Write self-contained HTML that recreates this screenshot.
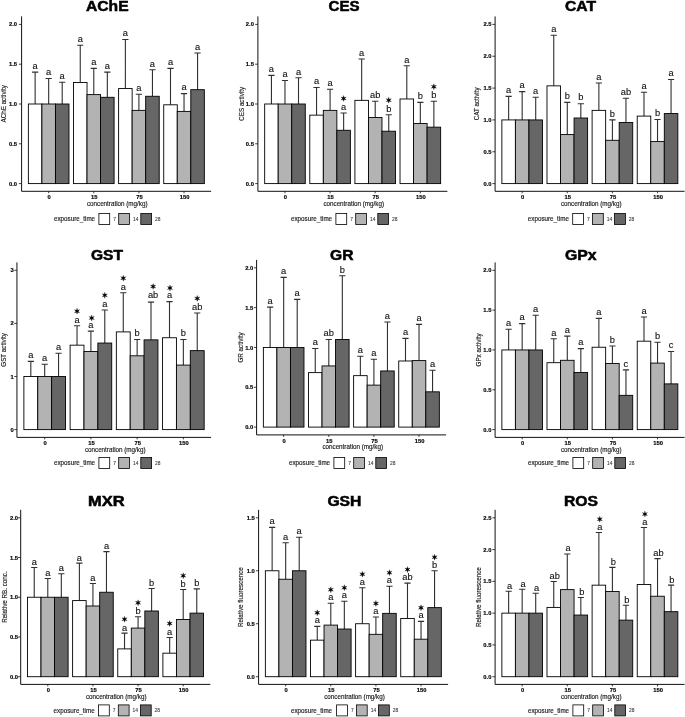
<!DOCTYPE html>
<html><head><meta charset="utf-8"><title>Biomarker bar charts</title>
<style>
html,body{margin:0;padding:0;background:#fff;}
body{width:685px;height:717px;overflow:hidden;font-family:"Liberation Sans",sans-serif;}
svg{display:block;will-change:transform;}
text{font-family:"Liberation Sans",sans-serif;}
.ttl{font-weight:bold;font-size:13.9px;fill:#000;stroke:#000;stroke-width:0.5px;}
.tk{font-weight:bold;font-size:5.8px;fill:#000;stroke:#000;stroke-width:0.15px;}
.at{font-size:6.28px;fill:#1a1a1a;stroke:#1a1a1a;stroke-width:0.15px;}
.lt{font-size:6.28px;fill:#1a1a1a;stroke:#1a1a1a;stroke-width:0.15px;}
.ll{font-size:4.9px;fill:#333;stroke:#333;stroke-width:0.08px;}
.lab{font-size:9.3px;fill:#111;stroke:#111;stroke-width:0.12px;text-anchor:middle;}
</style></head><body>
<svg width="685" height="717" viewBox="0 0 685 717">
<rect width="685" height="717" fill="#fff"/>
<g>
<text x="86" y="11.3" class="ttl" textLength="42.6" lengthAdjust="spacingAndGlyphs">AChE</text>
<path d="M35.14 104V72.16M32.04 72.16H38.24M48.67 104V78.53M45.57 78.53H51.77M62.21 104V82.19M59.11 82.19H65.31M80.25 82.51V45.26M77.15 45.26H83.35M93.79 94.61V68.42M90.69 68.42H96.89M107.33 97.31V72.16M104.23 72.16H110.43M125.37 88.56V39.52M122.27 39.52H128.47M138.91 110.37V94.29M135.81 94.29H142.01M152.45 96.28V69.77M149.35 69.77H155.55M170.49 104.8V68.42M167.39 68.42H173.59M184.03 111.4V93.65M180.93 93.65H187.13M197.56 89.67V53.06M194.46 53.06H200.66" stroke="#303030" stroke-width="1.1" fill="none"/>
<g stroke="#000" stroke-width="0.9"><rect x="28.37" y="104" width="13.54" height="79.6" fill="#ffffff"/><rect x="41.9" y="104" width="13.54" height="79.6" fill="#b3b3b3"/><rect x="55.44" y="104" width="13.54" height="79.6" fill="#666666"/><rect x="73.49" y="82.51" width="13.54" height="101.09" fill="#ffffff"/><rect x="87.02" y="94.61" width="13.54" height="88.99" fill="#b3b3b3"/><rect x="100.56" y="97.31" width="13.54" height="86.29" fill="#666666"/><rect x="118.61" y="88.56" width="13.54" height="95.04" fill="#ffffff"/><rect x="132.14" y="110.37" width="13.54" height="73.23" fill="#b3b3b3"/><rect x="145.68" y="96.28" width="13.54" height="87.32" fill="#666666"/><rect x="163.73" y="104.8" width="13.54" height="78.8" fill="#ffffff"/><rect x="177.26" y="111.4" width="13.54" height="72.2" fill="#b3b3b3"/><rect x="190.8" y="89.67" width="13.54" height="93.93" fill="#666666"/></g>
<text x="35.14" y="68.96" class="lab">a</text><text x="48.67" y="75.33" class="lab">a</text><text x="62.21" y="78.99" class="lab">a</text><text x="80.25" y="42.06" class="lab">a</text><text x="93.79" y="65.22" class="lab">a</text><text x="107.33" y="68.96" class="lab">a</text><text x="125.37" y="36.32" class="lab">a</text><text x="138.91" y="91.09" class="lab">a</text><text x="152.45" y="66.57" class="lab">a</text><text x="170.49" y="65.22" class="lab">a</text><text x="184.03" y="90.45" class="lab">a</text><text x="197.56" y="49.86" class="lab">a</text>
<text x="17" y="185.65" class="tk" text-anchor="end">0.0</text>
<text x="17" y="145.85" class="tk" text-anchor="end">0.5</text>
<text x="17" y="106.05" class="tk" text-anchor="end">1.0</text>
<text x="17" y="66.25" class="tk" text-anchor="end">1.5</text>
<text x="17" y="26.45" class="tk" text-anchor="end">2.0</text>
<text x="49.17" y="198.9" class="tk" text-anchor="middle">0</text>
<text x="94.29" y="198.9" class="tk" text-anchor="middle">15</text>
<text x="139.41" y="198.9" class="tk" text-anchor="middle">75</text>
<text x="184.53" y="198.9" class="tk" text-anchor="middle">150</text>
<path d="M21.6 16.4V191.3H211.1" stroke="#111" stroke-width="1.0" fill="none"/>
<path d="M18.9 183.6H21.6M18.9 143.8H21.6M18.9 104H21.6M18.9 64.2H21.6M18.9 24.4H21.6M48.67 191.3V193.3M93.79 191.3V193.3M138.91 191.3V193.3M184.03 191.3V193.3" stroke="#111" stroke-width="0.8" fill="none"/>
<text x="117.2" y="206.2" class="at" text-anchor="middle">concentration (mg/kg)</text>
<text transform="translate(5.9 103.85) rotate(-90)" class="at" text-anchor="middle">AChE activity</text>
<text x="54" y="221.3" class="lt">exposure_time</text>
<rect x="98.9" y="213.5" width="10.8" height="11" fill="#ffffff" stroke="#000" stroke-width="0.8"/>
<text x="113.2" y="220.9" class="ll">7</text>
<rect x="118.7" y="213.5" width="10.8" height="11" fill="#b3b3b3" stroke="#000" stroke-width="0.8"/>
<text x="133" y="220.9" class="ll">14</text>
<rect x="140.8" y="213.5" width="10.8" height="11" fill="#666666" stroke="#000" stroke-width="0.8"/>
<text x="155" y="220.9" class="ll">28</text>
</g>
<g>
<text x="328.6" y="11.3" class="ttl" textLength="31" lengthAdjust="spacingAndGlyphs">CES</text>
<path d="M271.44 104V75.34M268.34 75.34H274.54M284.97 104V80.52M281.87 80.52H288.07M298.51 104V77.73M295.41 77.73H301.61M316.55 115.14V87.52M313.45 87.52H319.65M330.09 110.37V89.19M326.99 89.19H333.19M343.63 130.27V113.07M340.53 113.07H346.73M361.67 100.34V59.03M358.57 59.03H364.77M375.21 117.53V101.29M372.11 101.29H378.31M388.75 131.22V114.75M385.65 114.75H391.85M406.79 98.99V65.79M403.69 65.79H409.89M420.33 123.5V102.41M417.23 102.41H423.43M433.86 127.16V101.29M430.76 101.29H436.96" stroke="#303030" stroke-width="1.1" fill="none"/>
<g stroke="#000" stroke-width="0.9"><rect x="264.67" y="104" width="13.54" height="79.6" fill="#ffffff"/><rect x="278.2" y="104" width="13.54" height="79.6" fill="#b3b3b3"/><rect x="291.74" y="104" width="13.54" height="79.6" fill="#666666"/><rect x="309.79" y="115.14" width="13.54" height="68.46" fill="#ffffff"/><rect x="323.32" y="110.37" width="13.54" height="73.23" fill="#b3b3b3"/><rect x="336.86" y="130.27" width="13.54" height="53.33" fill="#666666"/><rect x="354.91" y="100.34" width="13.54" height="83.26" fill="#ffffff"/><rect x="368.44" y="117.53" width="13.54" height="66.07" fill="#b3b3b3"/><rect x="381.98" y="131.22" width="13.54" height="52.38" fill="#666666"/><rect x="400.02" y="98.99" width="13.54" height="84.61" fill="#ffffff"/><rect x="413.56" y="123.5" width="13.54" height="60.1" fill="#b3b3b3"/><rect x="427.1" y="127.16" width="13.54" height="56.44" fill="#666666"/></g>
<text x="271.44" y="72.14" class="lab">a</text><text x="284.97" y="77.32" class="lab">a</text><text x="298.51" y="74.53" class="lab">a</text><text x="316.55" y="84.32" class="lab">a</text><text x="330.09" y="85.99" class="lab">a</text><polygon points="343.63,95.47 343.05,97.48 341.03,96.97 342.48,98.47 341.03,99.97 343.05,99.47 343.63,101.47 344.2,99.47 346.22,99.97 344.78,98.47 346.22,96.97 344.2,97.48" fill="#000" stroke="#000" stroke-width="0.25" stroke-linejoin="round"/><text x="343.63" y="109.87" class="lab">a</text><text x="361.67" y="55.83" class="lab">a</text><text x="375.21" y="98.09" class="lab">ab</text><polygon points="388.75,97.15 388.17,99.15 386.15,98.65 387.6,100.15 386.15,101.65 388.17,101.14 388.75,103.15 389.32,101.14 391.34,101.65 389.9,100.15 391.34,98.65 389.32,99.15" fill="#000" stroke="#000" stroke-width="0.25" stroke-linejoin="round"/><text x="388.75" y="111.55" class="lab">b</text><text x="406.79" y="62.59" class="lab">a</text><text x="420.33" y="99.21" class="lab">b</text><polygon points="433.86,83.69 433.29,85.7 431.27,85.19 432.71,86.69 431.27,88.19 433.29,87.69 433.86,89.69 434.44,87.69 436.46,88.19 435.01,86.69 436.46,85.19 434.44,85.7" fill="#000" stroke="#000" stroke-width="0.25" stroke-linejoin="round"/><text x="433.86" y="98.09" class="lab">b</text>
<text x="253.9" y="185.65" class="tk" text-anchor="end">0.0</text>
<text x="253.9" y="145.85" class="tk" text-anchor="end">0.5</text>
<text x="253.9" y="106.05" class="tk" text-anchor="end">1.0</text>
<text x="253.9" y="66.25" class="tk" text-anchor="end">1.5</text>
<text x="253.9" y="26.45" class="tk" text-anchor="end">2.0</text>
<text x="285.47" y="198.9" class="tk" text-anchor="middle">0</text>
<text x="330.59" y="198.9" class="tk" text-anchor="middle">15</text>
<text x="375.71" y="198.9" class="tk" text-anchor="middle">75</text>
<text x="420.83" y="198.9" class="tk" text-anchor="middle">150</text>
<path d="M257.9 16.4V191.3H447.4" stroke="#111" stroke-width="1.0" fill="none"/>
<path d="M255.2 183.6H257.9M255.2 143.8H257.9M255.2 104H257.9M255.2 64.2H257.9M255.2 24.4H257.9M284.97 191.3V193.3M330.09 191.3V193.3M375.21 191.3V193.3M420.33 191.3V193.3" stroke="#111" stroke-width="0.8" fill="none"/>
<text x="353.7" y="206.2" class="at" text-anchor="middle">concentration (mg/kg)</text>
<text transform="translate(244.1 103.85) rotate(-90)" class="at" text-anchor="middle">CES activity</text>
<text x="291" y="221.3" class="lt">exposure_time</text>
<rect x="335.9" y="213.5" width="10.8" height="11" fill="#ffffff" stroke="#000" stroke-width="0.8"/>
<text x="350.2" y="220.9" class="ll">7</text>
<rect x="355.7" y="213.5" width="10.8" height="11" fill="#b3b3b3" stroke="#000" stroke-width="0.8"/>
<text x="370" y="220.9" class="ll">14</text>
<rect x="377.8" y="213.5" width="10.8" height="11" fill="#666666" stroke="#000" stroke-width="0.8"/>
<text x="392" y="220.9" class="ll">28</text>
</g>
<g>
<text x="565" y="11.3" class="ttl" textLength="31" lengthAdjust="spacingAndGlyphs">CAT</text>
<path d="M508.64 119.92V96.36M505.54 96.36H511.74M522.17 119.92V91.58M519.07 91.58H525.27M535.71 119.92V97.31M532.61 97.31H538.81M553.75 85.85V35.23M550.65 35.23H556.85M567.29 134.57V102.34M564.19 102.34H570.39M580.83 118.01V103.68M577.73 103.68H583.93M598.87 110.37V82.99M595.77 82.99H601.97M612.41 140.3V119.92M609.31 119.92H615.51M625.95 122.47V98.27M622.85 98.27H629.05M643.99 116.1V92.22M640.89 92.22H647.09M657.53 141.57V119.47M654.43 119.47H660.63M671.06 113.55V79.48M667.96 79.48H674.16" stroke="#303030" stroke-width="1.1" fill="none"/>
<g stroke="#000" stroke-width="0.9"><rect x="501.87" y="119.92" width="13.54" height="63.68" fill="#ffffff"/><rect x="515.4" y="119.92" width="13.54" height="63.68" fill="#b3b3b3"/><rect x="528.94" y="119.92" width="13.54" height="63.68" fill="#666666"/><rect x="546.99" y="85.85" width="13.54" height="97.75" fill="#ffffff"/><rect x="560.52" y="134.57" width="13.54" height="49.03" fill="#b3b3b3"/><rect x="574.06" y="118.01" width="13.54" height="65.59" fill="#666666"/><rect x="592.11" y="110.37" width="13.54" height="73.23" fill="#ffffff"/><rect x="605.64" y="140.3" width="13.54" height="43.3" fill="#b3b3b3"/><rect x="619.18" y="122.47" width="13.54" height="61.13" fill="#666666"/><rect x="637.23" y="116.1" width="13.54" height="67.5" fill="#ffffff"/><rect x="650.76" y="141.57" width="13.54" height="42.03" fill="#b3b3b3"/><rect x="664.3" y="113.55" width="13.54" height="70.05" fill="#666666"/></g>
<text x="508.64" y="93.16" class="lab">a</text><text x="522.17" y="88.38" class="lab">a</text><text x="535.71" y="94.11" class="lab">a</text><text x="553.75" y="32.03" class="lab">a</text><text x="567.29" y="99.14" class="lab">b</text><text x="580.83" y="100.48" class="lab">b</text><text x="598.87" y="79.79" class="lab">a</text><text x="612.41" y="116.72" class="lab">b</text><text x="625.95" y="95.07" class="lab">ab</text><text x="643.99" y="89.02" class="lab">a</text><text x="657.53" y="116.27" class="lab">b</text><text x="671.06" y="76.28" class="lab">a</text>
<text x="491.6" y="185.65" class="tk" text-anchor="end">0.0</text>
<text x="491.6" y="153.81" class="tk" text-anchor="end">0.5</text>
<text x="491.6" y="121.97" class="tk" text-anchor="end">1.0</text>
<text x="491.6" y="90.13" class="tk" text-anchor="end">1.5</text>
<text x="491.6" y="58.29" class="tk" text-anchor="end">2.0</text>
<text x="491.6" y="26.45" class="tk" text-anchor="end">2.5</text>
<text x="522.67" y="198.9" class="tk" text-anchor="middle">0</text>
<text x="567.79" y="198.9" class="tk" text-anchor="middle">15</text>
<text x="612.91" y="198.9" class="tk" text-anchor="middle">75</text>
<text x="658.03" y="198.9" class="tk" text-anchor="middle">150</text>
<path d="M495.1 16.4V191.3H684.6" stroke="#111" stroke-width="1.0" fill="none"/>
<path d="M492.4 183.6H495.1M492.4 151.76H495.1M492.4 119.92H495.1M492.4 88.08H495.1M492.4 56.24H495.1M492.4 24.4H495.1M522.17 191.3V193.3M567.29 191.3V193.3M612.41 191.3V193.3M657.53 191.3V193.3" stroke="#111" stroke-width="0.8" fill="none"/>
<text x="591.2" y="206.2" class="at" text-anchor="middle">concentration (mg/kg)</text>
<text transform="translate(479.2 103.85) rotate(-90)" class="at" text-anchor="middle">CAT activity</text>
<text x="527.8" y="221.3" class="lt">exposure_time</text>
<rect x="572.7" y="213.5" width="10.8" height="11" fill="#ffffff" stroke="#000" stroke-width="0.8"/>
<text x="587" y="220.9" class="ll">7</text>
<rect x="592.5" y="213.5" width="10.8" height="11" fill="#b3b3b3" stroke="#000" stroke-width="0.8"/>
<text x="606.8" y="220.9" class="ll">14</text>
<rect x="614.6" y="213.5" width="10.8" height="11" fill="#666666" stroke="#000" stroke-width="0.8"/>
<text x="628.8" y="220.9" class="ll">28</text>
</g>
<g>
<text x="91" y="260.1" class="ttl" textLength="32" lengthAdjust="spacingAndGlyphs">GST</text>
<path d="M30.82 376.5V361.42M27.72 361.42H33.92M44.69 376.5V364.29M41.59 364.29H47.79M58.55 376.5V353.3M55.45 353.3H61.65M77.04 345.17V325.74M73.94 325.74H80.14M90.91 351.54V331.15M87.81 331.15H94.01M104.78 343.05V309.97M101.68 309.97H107.88M123.27 331.9V292.81M120.17 292.81H126.37M137.14 355.79V339.54M134.04 339.54H140.24M151.01 339.86V302.16M147.91 302.16H154.11M169.5 337.74V301.63M166.4 301.63H172.6M183.36 365.08V339.54M180.26 339.54H186.46M197.23 350.64V312.99M194.13 312.99H200.33" stroke="#303030" stroke-width="1.1" fill="none"/>
<g stroke="#000" stroke-width="0.9"><rect x="23.88" y="376.5" width="13.87" height="53.1" fill="#ffffff"/><rect x="37.75" y="376.5" width="13.87" height="53.1" fill="#b3b3b3"/><rect x="51.62" y="376.5" width="13.87" height="53.1" fill="#666666"/><rect x="70.11" y="345.17" width="13.87" height="84.43" fill="#ffffff"/><rect x="83.98" y="351.54" width="13.87" height="78.06" fill="#b3b3b3"/><rect x="97.85" y="343.05" width="13.87" height="86.55" fill="#666666"/><rect x="116.34" y="331.9" width="13.87" height="97.7" fill="#ffffff"/><rect x="130.2" y="355.79" width="13.87" height="73.81" fill="#b3b3b3"/><rect x="144.07" y="339.86" width="13.87" height="89.74" fill="#666666"/><rect x="162.56" y="337.74" width="13.87" height="91.86" fill="#ffffff"/><rect x="176.43" y="365.08" width="13.87" height="64.52" fill="#b3b3b3"/><rect x="190.3" y="350.64" width="13.87" height="78.96" fill="#666666"/></g>
<text x="30.82" y="358.22" class="lab">a</text><text x="44.69" y="361.09" class="lab">a</text><text x="58.55" y="350.1" class="lab">a</text><polygon points="77.04,308.14 76.47,310.14 74.45,309.64 75.89,311.14 74.45,312.64 76.47,312.13 77.04,314.14 77.62,312.13 79.64,312.64 78.19,311.14 79.64,309.64 77.62,310.14" fill="#000" stroke="#000" stroke-width="0.25" stroke-linejoin="round"/><text x="77.04" y="322.54" class="lab">a</text><polygon points="91.71,315.05 91.14,317.06 89.11,316.55 90.56,318.05 89.11,319.55 91.14,319.05 91.71,321.05 92.29,319.05 94.31,319.55 92.86,318.05 94.31,316.55 92.29,317.06" fill="#000" stroke="#000" stroke-width="0.25" stroke-linejoin="round"/><text x="90.91" y="327.95" class="lab">a</text><polygon points="104.78,292.37 104.2,294.37 102.18,293.87 103.63,295.37 102.18,296.87 104.2,296.36 104.78,298.37 105.35,296.36 107.38,296.87 105.93,295.37 107.38,293.87 105.35,294.37" fill="#000" stroke="#000" stroke-width="0.25" stroke-linejoin="round"/><text x="104.78" y="306.77" class="lab">a</text><polygon points="123.27,275.21 122.7,277.22 120.67,276.71 122.12,278.21 120.67,279.71 122.7,279.21 123.27,281.21 123.85,279.21 125.87,279.71 124.42,278.21 125.87,276.71 123.85,277.22" fill="#000" stroke="#000" stroke-width="0.25" stroke-linejoin="round"/><text x="123.27" y="289.61" class="lab">a</text><text x="137.14" y="336.34" class="lab">b</text><polygon points="153.11,283.56 152.53,285.56 150.51,285.06 151.96,286.56 150.51,288.06 152.53,287.56 153.11,289.56 153.68,287.56 155.7,288.06 154.26,286.56 155.7,285.06 153.68,285.56" fill="#000" stroke="#000" stroke-width="0.25" stroke-linejoin="round"/><text x="153.11" y="297.96" class="lab">ab</text><polygon points="170,285.03 169.42,287.03 167.4,286.53 168.85,288.03 167.4,289.53 169.42,289.02 170,291.03 170.57,289.02 172.59,289.53 171.15,288.03 172.59,286.53 170.57,287.03" fill="#000" stroke="#000" stroke-width="0.25" stroke-linejoin="round"/><text x="169.5" y="298.43" class="lab">a</text><text x="183.36" y="336.34" class="lab">b</text><polygon points="197.23,295.39 196.66,297.4 194.63,296.89 196.08,298.39 194.63,299.89 196.66,299.39 197.23,301.39 197.81,299.39 199.83,299.89 198.38,298.39 199.83,296.89 197.81,297.4" fill="#000" stroke="#000" stroke-width="0.25" stroke-linejoin="round"/><text x="197.23" y="309.79" class="lab">ab</text>
<text x="13.8" y="431.65" class="tk" text-anchor="end">0</text>
<text x="13.8" y="378.55" class="tk" text-anchor="end">1</text>
<text x="13.8" y="325.45" class="tk" text-anchor="end">2</text>
<text x="13.8" y="272.35" class="tk" text-anchor="end">3</text>
<text x="45.19" y="445.1" class="tk" text-anchor="middle">0</text>
<text x="91.41" y="445.1" class="tk" text-anchor="middle">15</text>
<text x="137.64" y="445.1" class="tk" text-anchor="middle">75</text>
<text x="183.86" y="445.1" class="tk" text-anchor="middle">150</text>
<path d="M16.95 262.4V437.4H211.1" stroke="#111" stroke-width="1.0" fill="none"/>
<path d="M14.25 429.6H16.95M14.25 376.5H16.95M14.25 323.4H16.95M14.25 270.3H16.95M44.69 437.4V439.4M90.91 437.4V439.4M137.14 437.4V439.4M183.36 437.4V439.4" stroke="#111" stroke-width="0.8" fill="none"/>
<text x="115.2" y="452" class="at" text-anchor="middle">concentration (mg/kg)</text>
<text transform="translate(5.9 349.9) rotate(-90)" class="at" text-anchor="middle">GST activity</text>
<text x="54" y="465.3" class="lt">exposure_time</text>
<rect x="98.9" y="457.5" width="10.8" height="11" fill="#ffffff" stroke="#000" stroke-width="0.8"/>
<text x="113.2" y="464.9" class="ll">7</text>
<rect x="118.7" y="457.5" width="10.8" height="11" fill="#b3b3b3" stroke="#000" stroke-width="0.8"/>
<text x="133" y="464.9" class="ll">14</text>
<rect x="140.8" y="457.5" width="10.8" height="11" fill="#666666" stroke="#000" stroke-width="0.8"/>
<text x="155" y="464.9" class="ll">28</text>
</g>
<g>
<text x="330" y="260.3" class="ttl" textLength="23.4" lengthAdjust="spacingAndGlyphs">GR</text>
<path d="M270.14 347.45V307.15M267.04 307.15H273.24M283.67 347.45V277.36M280.57 277.36H286.77M297.21 347.45V299.42M294.11 299.42H300.31M315.25 372.62V348.49M312.15 348.49H318.35M328.79 365.93V339.49M325.69 339.49H331.89M342.33 339.49V275.76M339.23 275.76H345.43M360.37 375.65V356.21M357.27 356.21H363.47M373.91 385.12V359.24M370.81 359.24H377.01M387.45 370.95V321.96M384.35 321.96H390.55M405.49 360.99V338.37M402.39 338.37H408.59M419.03 360.59V324.35M415.93 324.35H422.13M432.56 391.82V370.31M429.46 370.31H435.66" stroke="#303030" stroke-width="1.1" fill="none"/>
<g stroke="#000" stroke-width="0.9"><rect x="263.37" y="347.45" width="13.54" height="79.65" fill="#ffffff"/><rect x="276.9" y="347.45" width="13.54" height="79.65" fill="#b3b3b3"/><rect x="290.44" y="347.45" width="13.54" height="79.65" fill="#666666"/><rect x="308.49" y="372.62" width="13.54" height="54.48" fill="#ffffff"/><rect x="322.02" y="365.93" width="13.54" height="61.17" fill="#b3b3b3"/><rect x="335.56" y="339.49" width="13.54" height="87.62" fill="#666666"/><rect x="353.61" y="375.65" width="13.54" height="51.45" fill="#ffffff"/><rect x="367.14" y="385.12" width="13.54" height="41.98" fill="#b3b3b3"/><rect x="380.68" y="370.95" width="13.54" height="56.15" fill="#666666"/><rect x="398.73" y="360.99" width="13.54" height="66.11" fill="#ffffff"/><rect x="412.26" y="360.59" width="13.54" height="66.51" fill="#b3b3b3"/><rect x="425.8" y="391.82" width="13.54" height="35.28" fill="#666666"/></g>
<text x="270.14" y="303.95" class="lab">a</text><text x="283.67" y="274.16" class="lab">a</text><text x="297.21" y="296.22" class="lab">a</text><text x="315.25" y="345.29" class="lab">a</text><text x="328.79" y="336.29" class="lab">ab</text><text x="342.33" y="272.56" class="lab">b</text><text x="360.37" y="353.01" class="lab">a</text><text x="373.91" y="356.04" class="lab">a</text><text x="387.45" y="318.76" class="lab">a</text><text x="405.49" y="335.17" class="lab">a</text><text x="419.03" y="321.15" class="lab">a</text><text x="432.56" y="367.11" class="lab">a</text>
<text x="253.2" y="429.15" class="tk" text-anchor="end">0.0</text>
<text x="253.2" y="389.33" class="tk" text-anchor="end">0.5</text>
<text x="253.2" y="349.5" class="tk" text-anchor="end">1.0</text>
<text x="253.2" y="309.68" class="tk" text-anchor="end">1.5</text>
<text x="253.2" y="269.85" class="tk" text-anchor="end">2.0</text>
<text x="284.17" y="442.7" class="tk" text-anchor="middle">0</text>
<text x="329.29" y="442.7" class="tk" text-anchor="middle">15</text>
<text x="374.41" y="442.7" class="tk" text-anchor="middle">75</text>
<text x="419.53" y="442.7" class="tk" text-anchor="middle">150</text>
<path d="M256.6 259.9V434.9H446.1" stroke="#111" stroke-width="1.0" fill="none"/>
<path d="M253.9 427.1H256.6M253.9 387.28H256.6M253.9 347.45H256.6M253.9 307.62H256.6M253.9 267.8H256.6M283.67 434.9V436.9M328.79 434.9V436.9M373.91 434.9V436.9M419.03 434.9V436.9" stroke="#111" stroke-width="0.8" fill="none"/>
<text x="352.7" y="449.4" class="at" text-anchor="middle">concentration (mg/kg)</text>
<text transform="translate(242.9 347.4) rotate(-90)" class="at" text-anchor="middle">GR activity</text>
<text x="289" y="465.3" class="lt">exposure_time</text>
<rect x="333.9" y="457.5" width="10.8" height="11" fill="#ffffff" stroke="#000" stroke-width="0.8"/>
<text x="348.2" y="464.9" class="ll">7</text>
<rect x="353.7" y="457.5" width="10.8" height="11" fill="#b3b3b3" stroke="#000" stroke-width="0.8"/>
<text x="368" y="464.9" class="ll">14</text>
<rect x="375.8" y="457.5" width="10.8" height="11" fill="#666666" stroke="#000" stroke-width="0.8"/>
<text x="390" y="464.9" class="ll">28</text>
</g>
<g>
<text x="565" y="260.1" class="ttl" textLength="31.6" lengthAdjust="spacingAndGlyphs">GPx</text>
<path d="M508.64 349.95V329.24M505.54 329.24H511.74M522.17 349.95V323.67M519.07 323.67H525.27M535.71 349.95V315.3M532.61 315.3H538.81M553.75 362.69V338.8M550.65 338.8H556.85M567.29 360.3V336.17M564.19 336.17H570.39M580.83 372.49V348.6M577.73 348.6H583.93M598.87 347.24V318.33M595.77 318.33H601.97M612.41 363.49V345.97M609.31 345.97H615.51M625.95 395.35V369.86M622.85 369.86H629.05M643.99 341.19V316.97M640.89 316.97H647.09M657.53 363.09V342.22M654.43 342.22H660.63M671.06 383.88V351.54M667.96 351.54H674.16" stroke="#303030" stroke-width="1.1" fill="none"/>
<g stroke="#000" stroke-width="0.9"><rect x="501.87" y="349.95" width="13.54" height="79.65" fill="#ffffff"/><rect x="515.4" y="349.95" width="13.54" height="79.65" fill="#b3b3b3"/><rect x="528.94" y="349.95" width="13.54" height="79.65" fill="#666666"/><rect x="546.99" y="362.69" width="13.54" height="66.91" fill="#ffffff"/><rect x="560.52" y="360.3" width="13.54" height="69.3" fill="#b3b3b3"/><rect x="574.06" y="372.49" width="13.54" height="57.11" fill="#666666"/><rect x="592.11" y="347.24" width="13.54" height="82.36" fill="#ffffff"/><rect x="605.64" y="363.49" width="13.54" height="66.11" fill="#b3b3b3"/><rect x="619.18" y="395.35" width="13.54" height="34.25" fill="#666666"/><rect x="637.23" y="341.19" width="13.54" height="88.41" fill="#ffffff"/><rect x="650.76" y="363.09" width="13.54" height="66.51" fill="#b3b3b3"/><rect x="664.3" y="383.88" width="13.54" height="45.72" fill="#666666"/></g>
<text x="508.64" y="326.04" class="lab">a</text><text x="522.17" y="320.47" class="lab">a</text><text x="535.71" y="312.1" class="lab">a</text><text x="553.75" y="335.6" class="lab">a</text><text x="567.29" y="332.97" class="lab">a</text><text x="580.83" y="345.4" class="lab">a</text><text x="598.87" y="315.13" class="lab">a</text><text x="612.41" y="342.77" class="lab">b</text><text x="625.95" y="366.66" class="lab">c</text><text x="643.99" y="313.77" class="lab">a</text><text x="657.53" y="339.02" class="lab">b</text><text x="671.06" y="348.34" class="lab">c</text>
<text x="491.4" y="431.65" class="tk" text-anchor="end">0.0</text>
<text x="491.4" y="391.83" class="tk" text-anchor="end">0.5</text>
<text x="491.4" y="352" class="tk" text-anchor="end">1.0</text>
<text x="491.4" y="312.18" class="tk" text-anchor="end">1.5</text>
<text x="491.4" y="272.35" class="tk" text-anchor="end">2.0</text>
<text x="522.67" y="445.1" class="tk" text-anchor="middle">0</text>
<text x="567.79" y="445.1" class="tk" text-anchor="middle">15</text>
<text x="612.91" y="445.1" class="tk" text-anchor="middle">75</text>
<text x="658.03" y="445.1" class="tk" text-anchor="middle">150</text>
<path d="M495.1 262.4V437.4H684.6" stroke="#111" stroke-width="1.0" fill="none"/>
<path d="M492.4 429.6H495.1M492.4 389.78H495.1M492.4 349.95H495.1M492.4 310.12H495.1M492.4 270.3H495.1M522.17 437.4V439.4M567.29 437.4V439.4M612.41 437.4V439.4M657.53 437.4V439.4" stroke="#111" stroke-width="0.8" fill="none"/>
<text x="591.2" y="452" class="at" text-anchor="middle">concentration (mg/kg)</text>
<text transform="translate(481.3 349.9) rotate(-90)" class="at" text-anchor="middle">GPx activity</text>
<text x="528" y="465.3" class="lt">exposure_time</text>
<rect x="572.9" y="457.5" width="10.8" height="11" fill="#ffffff" stroke="#000" stroke-width="0.8"/>
<text x="587.2" y="464.9" class="ll">7</text>
<rect x="592.7" y="457.5" width="10.8" height="11" fill="#b3b3b3" stroke="#000" stroke-width="0.8"/>
<text x="607" y="464.9" class="ll">14</text>
<rect x="614.8" y="457.5" width="10.8" height="11" fill="#666666" stroke="#000" stroke-width="0.8"/>
<text x="629" y="464.9" class="ll">28</text>
</g>
<g>
<text x="88" y="505.7" class="ttl" textLength="36.6" lengthAdjust="spacingAndGlyphs">MXR</text>
<path d="M34.24 597.25V567.46M31.14 567.46H37.34M47.79 597.25V578.5M44.69 578.5H50.89M61.33 597.25V573.81M58.23 573.81H64.43M79.39 600.59V563.09M76.29 563.09H82.49M92.93 605.99V583.51M89.83 583.51H96.03M106.47 592.24V551.65M103.37 551.65H109.57M124.53 648.89V633.16M121.43 633.16H127.63M138.07 628.08V616.72M134.97 616.72H141.17M151.61 610.99V588.51M148.51 588.51H154.71M169.67 653.18V637.45M166.57 637.45H172.77M183.21 619.5V589.54M180.11 589.54H186.31M196.76 613.14V588.91M193.66 588.91H199.86" stroke="#303030" stroke-width="1.1" fill="none"/>
<g stroke="#000" stroke-width="0.9"><rect x="27.47" y="597.25" width="13.54" height="79.45" fill="#ffffff"/><rect x="41.01" y="597.25" width="13.54" height="79.45" fill="#b3b3b3"/><rect x="54.56" y="597.25" width="13.54" height="79.45" fill="#666666"/><rect x="72.61" y="600.59" width="13.54" height="76.11" fill="#ffffff"/><rect x="86.16" y="605.99" width="13.54" height="70.71" fill="#b3b3b3"/><rect x="99.7" y="592.24" width="13.54" height="84.46" fill="#666666"/><rect x="117.76" y="648.89" width="13.54" height="27.81" fill="#ffffff"/><rect x="131.3" y="628.08" width="13.54" height="48.62" fill="#b3b3b3"/><rect x="144.84" y="610.99" width="13.54" height="65.71" fill="#666666"/><rect x="162.9" y="653.18" width="13.54" height="23.52" fill="#ffffff"/><rect x="176.44" y="619.5" width="13.54" height="57.2" fill="#b3b3b3"/><rect x="189.99" y="613.14" width="13.54" height="63.56" fill="#666666"/></g>
<text x="34.24" y="564.96" class="lab">a</text><text x="47.79" y="576" class="lab">a</text><text x="61.33" y="571.31" class="lab">a</text><text x="79.39" y="560.59" class="lab">a</text><text x="92.93" y="581.01" class="lab">a</text><text x="106.47" y="549.15" class="lab">a</text><polygon points="124.53,616.26 123.95,618.27 121.93,617.76 123.38,619.26 121.93,620.76 123.95,620.26 124.53,622.26 125.1,620.26 127.13,620.76 125.68,619.26 127.13,617.76 125.1,618.27" fill="#000" stroke="#000" stroke-width="0.25" stroke-linejoin="round"/><text x="124.53" y="630.66" class="lab">a</text><polygon points="138.07,599.82 137.5,601.82 135.47,601.32 136.92,602.82 135.47,604.32 137.5,603.81 138.07,605.82 138.65,603.81 140.67,604.32 139.22,602.82 140.67,601.32 138.65,601.82" fill="#000" stroke="#000" stroke-width="0.25" stroke-linejoin="round"/><text x="138.07" y="614.22" class="lab">b</text><text x="151.61" y="586.01" class="lab">b</text><polygon points="169.67,620.55 169.1,622.56 167.07,622.05 168.52,623.55 167.07,625.05 169.1,624.55 169.67,626.55 170.25,624.55 172.27,625.05 170.82,623.55 172.27,622.05 170.25,622.56" fill="#000" stroke="#000" stroke-width="0.25" stroke-linejoin="round"/><text x="169.67" y="634.95" class="lab">a</text><polygon points="183.21,572.64 182.64,574.65 180.62,574.14 182.06,575.64 180.62,577.14 182.64,576.64 183.21,578.64 183.79,576.64 185.81,577.14 184.36,575.64 185.81,574.14 183.79,574.65" fill="#000" stroke="#000" stroke-width="0.25" stroke-linejoin="round"/><text x="183.21" y="587.04" class="lab">b</text><text x="196.76" y="586.41" class="lab">b</text>
<text x="18" y="678.75" class="tk" text-anchor="end">0.0</text>
<text x="18" y="639.02" class="tk" text-anchor="end">0.5</text>
<text x="18" y="599.3" class="tk" text-anchor="end">1.0</text>
<text x="18" y="559.57" class="tk" text-anchor="end">1.5</text>
<text x="18" y="519.85" class="tk" text-anchor="end">2.0</text>
<text x="48.29" y="692.2" class="tk" text-anchor="middle">0</text>
<text x="93.43" y="692.2" class="tk" text-anchor="middle">15</text>
<text x="138.57" y="692.2" class="tk" text-anchor="middle">75</text>
<text x="183.71" y="692.2" class="tk" text-anchor="middle">150</text>
<path d="M20.7 509.8V684.4H210.3" stroke="#111" stroke-width="1.0" fill="none"/>
<path d="M18 676.7H20.7M18 636.98H20.7M18 597.25H20.7M18 557.52H20.7M18 517.8H20.7M47.79 684.4V686.4M92.93 684.4V686.4M138.07 684.4V686.4M183.21 684.4V686.4" stroke="#111" stroke-width="0.8" fill="none"/>
<text x="116.2" y="699" class="at" text-anchor="middle">concentration (mg/kg)</text>
<text transform="translate(6.5 597.1) rotate(-90)" class="at" text-anchor="middle">Relative RB. conc.</text>
<text x="53.6" y="712.7" class="lt">exposure_time</text>
<rect x="98.5" y="704.9" width="10.8" height="11" fill="#ffffff" stroke="#000" stroke-width="0.8"/>
<text x="112.8" y="712.3" class="ll">7</text>
<rect x="118.3" y="704.9" width="10.8" height="11" fill="#b3b3b3" stroke="#000" stroke-width="0.8"/>
<text x="132.6" y="712.3" class="ll">14</text>
<rect x="140.4" y="704.9" width="10.8" height="11" fill="#666666" stroke="#000" stroke-width="0.8"/>
<text x="154.6" y="712.3" class="ll">28</text>
</g>
<g>
<text x="327.4" y="505.9" class="ttl" textLength="34" lengthAdjust="spacingAndGlyphs">GSH</text>
<path d="M272.14 570.77V527.33M269.04 527.33H275.24M285.67 579.24V542.8M282.57 542.8H288.77M299.21 570.77V537.29M296.11 537.29H302.31M317.25 640.15V626.38M314.15 626.38H320.35M330.79 625.11V603.29M327.69 603.29H333.89M344.33 629.03V601.28M341.23 601.28H347.43M362.37 623.73V587.82M359.27 587.82H365.47M375.91 634.33V617.06M372.81 617.06H379.01M389.45 613.35V586.23M386.35 586.23H392.55M407.49 618.44V583.16M404.39 583.16H410.59M421.03 639.2V621.4M417.93 621.4H424.13M434.56 607.63V570.77M431.46 570.77H437.66" stroke="#303030" stroke-width="1.1" fill="none"/>
<g stroke="#000" stroke-width="0.9"><rect x="265.37" y="570.77" width="13.54" height="105.93" fill="#ffffff"/><rect x="278.9" y="579.24" width="13.54" height="97.46" fill="#b3b3b3"/><rect x="292.44" y="570.77" width="13.54" height="105.93" fill="#666666"/><rect x="310.49" y="640.15" width="13.54" height="36.55" fill="#ffffff"/><rect x="324.02" y="625.11" width="13.54" height="51.59" fill="#b3b3b3"/><rect x="337.56" y="629.03" width="13.54" height="47.67" fill="#666666"/><rect x="355.61" y="623.73" width="13.54" height="52.97" fill="#ffffff"/><rect x="369.14" y="634.33" width="13.54" height="42.37" fill="#b3b3b3"/><rect x="382.68" y="613.35" width="13.54" height="63.35" fill="#666666"/><rect x="400.73" y="618.44" width="13.54" height="58.26" fill="#ffffff"/><rect x="414.26" y="639.2" width="13.54" height="37.5" fill="#b3b3b3"/><rect x="427.8" y="607.63" width="13.54" height="69.07" fill="#666666"/></g>
<text x="272.14" y="524.13" class="lab">a</text><text x="285.67" y="539.6" class="lab">a</text><text x="299.21" y="534.09" class="lab">a</text><polygon points="317.25,609.78 316.68,611.79 314.66,611.28 316.1,612.78 314.66,614.28 316.68,613.78 317.25,615.78 317.83,613.78 319.85,614.28 318.4,612.78 319.85,611.28 317.83,611.79" fill="#000" stroke="#000" stroke-width="0.25" stroke-linejoin="round"/><text x="317.25" y="623.18" class="lab">a</text><polygon points="330.79,586.69 330.22,588.69 328.19,588.19 329.64,589.69 328.19,591.19 330.22,590.68 330.79,592.69 331.37,590.68 333.39,591.19 331.94,589.69 333.39,588.19 331.37,588.69" fill="#000" stroke="#000" stroke-width="0.25" stroke-linejoin="round"/><text x="330.79" y="600.09" class="lab">a</text><polygon points="344.33,584.68 343.75,586.68 341.73,586.18 343.18,587.68 341.73,589.18 343.75,588.67 344.33,590.68 344.9,588.67 346.92,589.18 345.48,587.68 346.92,586.18 344.9,586.68" fill="#000" stroke="#000" stroke-width="0.25" stroke-linejoin="round"/><text x="344.33" y="598.08" class="lab">a</text><polygon points="362.37,571.22 361.8,573.23 359.78,572.72 361.22,574.22 359.78,575.72 361.8,575.22 362.37,577.22 362.95,575.22 364.97,575.72 363.52,574.22 364.97,572.72 362.95,573.23" fill="#000" stroke="#000" stroke-width="0.25" stroke-linejoin="round"/><text x="362.37" y="584.62" class="lab">a</text><polygon points="375.91,600.46 375.33,602.46 373.31,601.96 374.76,603.46 373.31,604.96 375.33,604.46 375.91,606.46 376.48,604.46 378.51,604.96 377.06,603.46 378.51,601.96 376.48,602.46" fill="#000" stroke="#000" stroke-width="0.25" stroke-linejoin="round"/><text x="375.91" y="613.86" class="lab">a</text><polygon points="389.45,569.63 388.87,571.64 386.85,571.13 388.3,572.63 386.85,574.13 388.87,573.63 389.45,575.63 390.02,573.63 392.04,574.13 390.6,572.63 392.04,571.13 390.02,571.64" fill="#000" stroke="#000" stroke-width="0.25" stroke-linejoin="round"/><text x="389.45" y="583.03" class="lab">a</text><polygon points="407.49,566.56 406.92,568.56 404.89,568.06 406.34,569.56 404.89,571.06 406.92,570.56 407.49,572.56 408.07,570.56 410.09,571.06 408.64,569.56 410.09,568.06 408.07,568.56" fill="#000" stroke="#000" stroke-width="0.25" stroke-linejoin="round"/><text x="407.49" y="579.96" class="lab">ab</text><polygon points="421.03,604.8 420.45,606.81 418.43,606.3 419.88,607.8 418.43,609.3 420.45,608.8 421.03,610.8 421.6,608.8 423.63,609.3 422.18,607.8 423.63,606.3 421.6,606.81" fill="#000" stroke="#000" stroke-width="0.25" stroke-linejoin="round"/><text x="421.03" y="618.2" class="lab">a</text><polygon points="434.56,554.17 433.99,556.17 431.97,555.67 433.41,557.17 431.97,558.67 433.99,558.16 434.56,560.17 435.14,558.16 437.16,558.67 435.71,557.17 437.16,555.67 435.14,556.17" fill="#000" stroke="#000" stroke-width="0.25" stroke-linejoin="round"/><text x="434.56" y="567.57" class="lab">b</text>
<text x="254.8" y="678.75" class="tk" text-anchor="end">0.0</text>
<text x="254.8" y="625.78" class="tk" text-anchor="end">0.5</text>
<text x="254.8" y="572.82" class="tk" text-anchor="end">1.0</text>
<text x="254.8" y="519.85" class="tk" text-anchor="end">1.5</text>
<text x="286.17" y="692.2" class="tk" text-anchor="middle">0</text>
<text x="331.29" y="692.2" class="tk" text-anchor="middle">15</text>
<text x="376.41" y="692.2" class="tk" text-anchor="middle">75</text>
<text x="421.53" y="692.2" class="tk" text-anchor="middle">150</text>
<path d="M258.6 509.8V684.4H448.1" stroke="#111" stroke-width="1.0" fill="none"/>
<path d="M255.9 676.7H258.6M255.9 623.73H258.6M255.9 570.77H258.6M255.9 517.8H258.6M285.67 684.4V686.4M330.79 684.4V686.4M375.91 684.4V686.4M421.03 684.4V686.4" stroke="#111" stroke-width="0.8" fill="none"/>
<text x="354.5" y="699" class="at" text-anchor="middle">concentration (mg/kg)</text>
<text transform="translate(242.9 597.1) rotate(-90)" class="at" text-anchor="middle">Relative fluorescence</text>
<text x="291" y="712.7" class="lt">exposure_time</text>
<rect x="336.6" y="704.9" width="10.8" height="11" fill="#ffffff" stroke="#000" stroke-width="0.8"/>
<text x="350.9" y="712.3" class="ll">7</text>
<rect x="356.4" y="704.9" width="10.8" height="11" fill="#b3b3b3" stroke="#000" stroke-width="0.8"/>
<text x="370.7" y="712.3" class="ll">14</text>
<rect x="378.5" y="704.9" width="10.8" height="11" fill="#666666" stroke="#000" stroke-width="0.8"/>
<text x="392.7" y="712.3" class="ll">28</text>
</g>
<g>
<text x="564" y="505.9" class="ttl" textLength="34" lengthAdjust="spacingAndGlyphs">ROS</text>
<path d="M508.64 613.14V591.21M505.54 591.21H511.74M522.17 613.14V589.18M519.07 589.18H525.27M535.71 613.14V593.25M532.61 593.25H538.81M553.75 607.42V581.49M550.65 581.49H556.85M567.29 589.62V554.03M564.19 554.03H570.39M580.83 615.05V597.57M577.73 597.57H583.93M598.87 585.17V532.55M595.77 532.55H601.97M612.41 591.53V567.38M609.31 567.38H615.51M625.95 620.13V605.32M622.85 605.32H629.05M643.99 584.54V527.52M640.89 527.52H647.09M657.53 596.23V558.67M654.43 558.67H660.63M671.06 611.68V585.17M667.96 585.17H674.16" stroke="#303030" stroke-width="1.1" fill="none"/>
<g stroke="#000" stroke-width="0.9"><rect x="501.87" y="613.14" width="13.54" height="63.56" fill="#ffffff"/><rect x="515.4" y="613.14" width="13.54" height="63.56" fill="#b3b3b3"/><rect x="528.94" y="613.14" width="13.54" height="63.56" fill="#666666"/><rect x="546.99" y="607.42" width="13.54" height="69.28" fill="#ffffff"/><rect x="560.52" y="589.62" width="13.54" height="87.08" fill="#b3b3b3"/><rect x="574.06" y="615.05" width="13.54" height="61.65" fill="#666666"/><rect x="592.11" y="585.17" width="13.54" height="91.53" fill="#ffffff"/><rect x="605.64" y="591.53" width="13.54" height="85.17" fill="#b3b3b3"/><rect x="619.18" y="620.13" width="13.54" height="56.57" fill="#666666"/><rect x="637.23" y="584.54" width="13.54" height="92.16" fill="#ffffff"/><rect x="650.76" y="596.23" width="13.54" height="80.47" fill="#b3b3b3"/><rect x="664.3" y="611.68" width="13.54" height="65.02" fill="#666666"/></g>
<text x="509.54" y="588.61" class="lab">a</text><text x="523.07" y="586.58" class="lab">a</text><text x="536.61" y="590.65" class="lab">a</text><text x="554.65" y="578.89" class="lab">ab</text><text x="568.19" y="551.43" class="lab">a</text><text x="581.73" y="594.97" class="lab">b</text><polygon points="599.77,516.15 599.2,518.15 597.18,517.65 598.62,519.15 597.18,520.65 599.2,520.14 599.77,522.15 600.35,520.14 602.37,520.65 600.92,519.15 602.37,517.65 600.35,518.15" fill="#000" stroke="#000" stroke-width="0.25" stroke-linejoin="round"/><text x="599.77" y="529.95" class="lab">a</text><text x="613.31" y="564.78" class="lab">b</text><text x="626.85" y="602.72" class="lab">b</text><polygon points="644.89,511.12 644.32,513.13 642.29,512.62 643.74,514.12 642.29,515.62 644.32,515.12 644.89,517.12 645.47,515.12 647.49,515.62 646.04,514.12 647.49,512.62 645.47,513.13" fill="#000" stroke="#000" stroke-width="0.25" stroke-linejoin="round"/><text x="644.89" y="524.92" class="lab">a</text><text x="658.43" y="556.07" class="lab">ab</text><text x="671.96" y="582.57" class="lab">b</text>
<text x="491.4" y="678.75" class="tk" text-anchor="end">0.0</text>
<text x="491.4" y="646.97" class="tk" text-anchor="end">0.5</text>
<text x="491.4" y="615.19" class="tk" text-anchor="end">1.0</text>
<text x="491.4" y="583.41" class="tk" text-anchor="end">1.5</text>
<text x="491.4" y="551.63" class="tk" text-anchor="end">2.0</text>
<text x="491.4" y="519.85" class="tk" text-anchor="end">2.5</text>
<text x="522.67" y="692.2" class="tk" text-anchor="middle">0</text>
<text x="567.79" y="692.2" class="tk" text-anchor="middle">15</text>
<text x="612.91" y="692.2" class="tk" text-anchor="middle">75</text>
<text x="658.03" y="692.2" class="tk" text-anchor="middle">150</text>
<path d="M495.1 509.8V684.4H684.6" stroke="#111" stroke-width="1.0" fill="none"/>
<path d="M492.4 676.7H495.1M492.4 644.92H495.1M492.4 613.14H495.1M492.4 581.36H495.1M492.4 549.58H495.1M492.4 517.8H495.1M522.17 684.4V686.4M567.29 684.4V686.4M612.41 684.4V686.4M657.53 684.4V686.4" stroke="#111" stroke-width="0.8" fill="none"/>
<text x="591.2" y="699" class="at" text-anchor="middle">concentration (mg/kg)</text>
<text transform="translate(481.1 597.1) rotate(-90)" class="at" text-anchor="middle">Relative fluorescence</text>
<text x="528" y="712.7" class="lt">exposure_time</text>
<rect x="572.9" y="704.9" width="10.8" height="11" fill="#ffffff" stroke="#000" stroke-width="0.8"/>
<text x="587.2" y="712.3" class="ll">7</text>
<rect x="592.7" y="704.9" width="10.8" height="11" fill="#b3b3b3" stroke="#000" stroke-width="0.8"/>
<text x="607" y="712.3" class="ll">14</text>
<rect x="614.8" y="704.9" width="10.8" height="11" fill="#666666" stroke="#000" stroke-width="0.8"/>
<text x="629" y="712.3" class="ll">28</text>
</g>
</svg></body></html>
